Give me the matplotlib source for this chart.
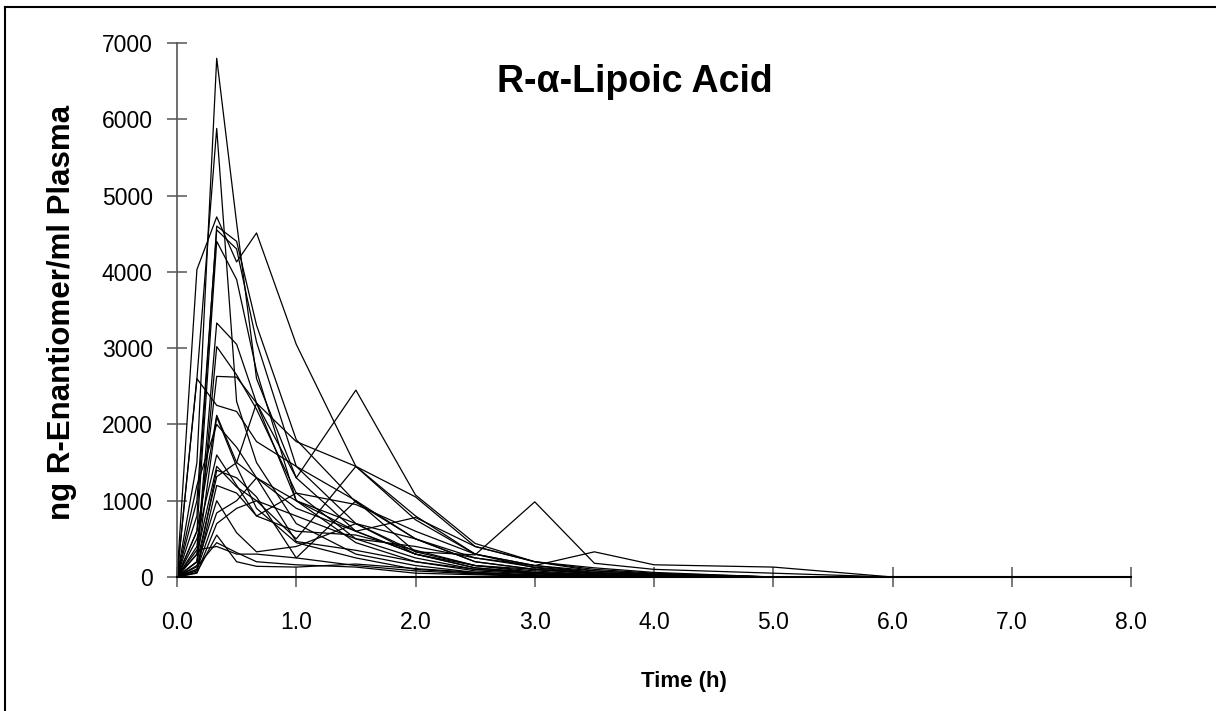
import matplotlib
matplotlib.use("Agg")
import matplotlib.pyplot as plt
from matplotlib.lines import Line2D

plt.rcParams['font.family'] = ['Liberation Sans', 'DejaVu Sans']

time_h = [0, 0.167, 0.333, 0.5, 0.667, 1.0, 1.5, 2.0, 2.5, 3.0, 3.5, 4.0, 5.0, 6.0, 8.0]

s01 = [0, 1500, 6800, 4640, 2600, 1300, 600, 300, 120, 60, 30, 10, 0, 0, 0]
s02 = [0, 2600, 5880, 2300, 1500, 700, 300, 150, 60, 20, 10, 0, 0, 0, 0]
s03 = [0, 4030, 4720, 4130, 4510, 3050, 1450, 800, 300, 150, 80, 40, 0, 0, 0]
s04 = [0, 800, 4600, 4400, 3300, 1800, 980, 500, 200, 100, 50, 20, 0, 0, 0]
s05 = [0, 1000, 4550, 4300, 3080, 1450, 700, 300, 120, 50, 20, 0, 0, 0, 0]
s06 = [0, 600, 4400, 3900, 2700, 1000, 450, 200, 80, 40, 10, 0, 0, 0, 0]
s07 = [0, 300, 3330, 3050, 2280, 1300, 2450, 1075, 440, 200, 100, 50, 0, 0, 0]
s08 = [0, 200, 3020, 2650, 2200, 1100, 500, 250, 100, 50, 20, 0, 0, 0, 0]
s09 = [0, 400, 2630, 2620, 2280, 1775, 1450, 1050, 400, 200, 120, 60, 0, 0, 0]
s10 = [0, 2600, 2250, 2170, 1775, 1450, 1000, 500, 250, 130, 60, 30, 0, 0, 0]
s11 = [0, 600, 2120, 1500, 1300, 1000, 700, 330, 150, 80, 30, 0, 0, 0, 0]
s12 = [0, 300, 1450, 1180, 1000, 500, 1450, 750, 300, 120, 50, 20, 0, 0, 0]
s13 = [0, 200, 1315, 1500, 2280, 1000, 600, 300, 150, 100, 50, 20, 0, 0, 0]
s14 = [0, 100, 840, 1000, 1300, 465, 350, 200, 100, 50, 20, 0, 0, 0, 0]
s15 = [0, 135, 450, 320, 200, 160, 130, 50, 30, 10, 0, 0, 0, 0, 0]
s16 = [0, 355, 400, 300, 300, 250, 1000, 330, 290, 985, 180, 100, 50, 0, 0]
s17 = [0, 50, 700, 900, 1000, 800, 500, 400, 250, 150, 330, 160, 130, 0, 0]
s18 = [0, 80, 1200, 1100, 800, 600, 550, 350, 150, 60, 30, 10, 0, 0, 0]
s19 = [0, 150, 1000, 580, 330, 400, 700, 500, 200, 100, 40, 20, 0, 0, 0]
s20 = [0, 200, 2100, 1450, 900, 450, 250, 100, 50, 20, 0, 0, 0, 0, 0]
s21 = [0, 500, 1600, 1200, 800, 1100, 950, 600, 300, 150, 60, 30, 0, 0, 0]
s22 = [0, 1200, 2000, 1700, 1300, 900, 600, 780, 400, 200, 80, 40, 0, 0, 0]
s23 = [0, 100, 1400, 1300, 1050, 250, 150, 80, 40, 10, 0, 0, 0, 0, 0]
s24 = [0, 60, 550, 200, 140, 130, 170, 110, 60, 30, 0, 0, 0, 0, 0]

subjects = [s01, s02, s03, s04, s05, s06, s07, s08, s09, s10, s11, s12,
            s13, s14, s15, s16, s17, s18, s19, s20, s21, s22, s23, s24]

x_ticks = [0, 1, 2, 3, 4, 5, 6, 7, 8]
x_ticklabels = ["0.0", "1.0", "2.0", "3.0", "4.0", "5.0", "6.0", "7.0", "8.0"]
y_ticks = [0, 1000, 2000, 3000, 4000, 5000, 6000, 7000]
y_ticklabels = ["0", "1000", "2000", "3000", "4000", "5000", "6000", "7000"]

fig = plt.figure(figsize=(12.16, 7.11), dpi=100)
ax = fig.add_axes([177/1216, 1 - 577/711, (1131 - 177)/1216, (577 - 43)/711])

for s in subjects:
    ax.plot(time_h, s, color='black', linewidth=0.9, clip_on=False)

ax.set_xlim(0, 8)
ax.set_ylim(0, 7000)
ax.set_xticks(x_ticks)
ax.set_xticklabels(x_ticklabels)
ax.set_yticks(y_ticks)
ax.set_yticklabels(y_ticklabels)

for side in ['top', 'right']:
    ax.spines[side].set_visible(False)
ax.spines['left'].set_color('#555555')
ax.spines['left'].set_linewidth(1.2)
ax.spines['bottom'].set_color('black')
ax.spines['bottom'].set_linewidth(1.5)

ax.tick_params(axis='x', direction='inout', length=15, width=1.1, color='#555555',
               labelsize=16.5, pad=17)
ax.tick_params(axis='y', direction='inout', length=15, width=1.1, color='#555555',
               labelsize=16.5, pad=10)

fig.text(635/1216, 1 - 82/711, "R-α-Lipoic Acid", ha='center', va='center',
         fontsize=27, fontweight='bold')

fig.text(62/1216, 1 - 312/711, "ng R-Enantiomer/ml Plasma", rotation=90,
         ha='center', va='center', fontsize=22.5, fontweight='bold')
fig.text(684/1216, 1 - 682/711, "Time (h)", ha='center', va='center',
         fontsize=16, fontweight='bold')

fig.add_artist(Line2D([5/1216, 1], [1 - 7/711, 1 - 7/711], color='black', linewidth=1.5,
                      transform=fig.transFigure))
fig.add_artist(Line2D([5/1216, 5/1216], [0, 1 - 7/711], color='black', linewidth=1.5,
                      transform=fig.transFigure))

fig.savefig("out.png", dpi=100)
